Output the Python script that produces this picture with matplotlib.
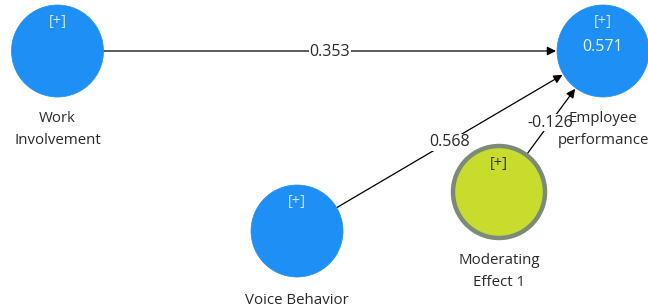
import matplotlib
matplotlib.use("Agg")
import matplotlib.pyplot as plt
from matplotlib.patches import Circle
import numpy as np

# ---- data ----
nodes = ["Work\nInvolvement", "Employee\nperformance", "Voice Behavior", "Moderating\nEffect 1"]
node_r2 = [None, "0.571", None, None]
path_source = [0, 2, 3]
path_target = [1, 1, 1]
path_coef = ["0.353", "0.568", "-0.126"]

# ---- layout (pixel coordinates) ----
centers = [(57.5, 51), (603, 51), (297, 231), (499, 192)]
label_y = [(119, 140), (118, 140), (300,), (260, 282)]
R = 46
fills = ["#1e90f5", "#1e90f5", "#1e90f5", "#c8dc2e"]
edges = ["#1e90f5", "#1e90f5", "#1e90f5", "#7d8a78"]
lws = [0.5, 0.5, 0.5, 3.2]
plus_col = ["#cfe6ff", "#cfe6ff", "#cfe6ff", "#333333"]

fig = plt.figure(figsize=(6.48, 3.08), dpi=100)
ax = fig.add_axes([0, 0, 1, 1])
ax.set_xlim(0, 648)
ax.set_ylim(308, 0)
ax.set_aspect("equal")
ax.axis("off")

font = "Open Sans"
fs = 10.8

for i, name in enumerate(nodes):
    cx, cy = centers[i]
    ax.add_patch(Circle((cx, cy), R, facecolor=fills[i], edgecolor=edges[i], lw=lws[i], zorder=3))
    ax.text(cx, cy - 29, "[+]", ha="center", va="center", fontsize=10.5, color=plus_col[i],
            family=font, zorder=4)
    if node_r2[i]:
        ax.text(cx, cy - 4, node_r2[i], ha="center", va="center", fontsize=11.5, color="#e8f3ff",
                family=font, zorder=4)
    for line, ly in zip(name.split("\n"), label_y[i]):
        ax.text(cx, ly, line, ha="center", va="center", fontsize=fs, color="#2a2a2a",
                family=font, zorder=5)

for s, t, c in zip(path_source, path_target, path_coef):
    p0 = np.array(centers[s], float)
    p1 = np.array(centers[t], float)
    d = (p1 - p0) / np.linalg.norm(p1 - p0)
    a = p0 + d * R
    b = p1 - d * (R + 1)
    ax.annotate("", xy=b, xytext=a,
                arrowprops=dict(arrowstyle="-|>", color="black", lw=0.9,
                                mutation_scale=13, shrinkA=0, shrinkB=0), zorder=2)
    m = (a + b) / 2
    ax.text(m[0], m[1] + 1, c, ha="center", va="center", fontsize=11.5, color="#2a2a2a", family=font,
            bbox=dict(facecolor="white", edgecolor="none", pad=0.3), zorder=4)

fig.savefig("out.png", dpi=100)
